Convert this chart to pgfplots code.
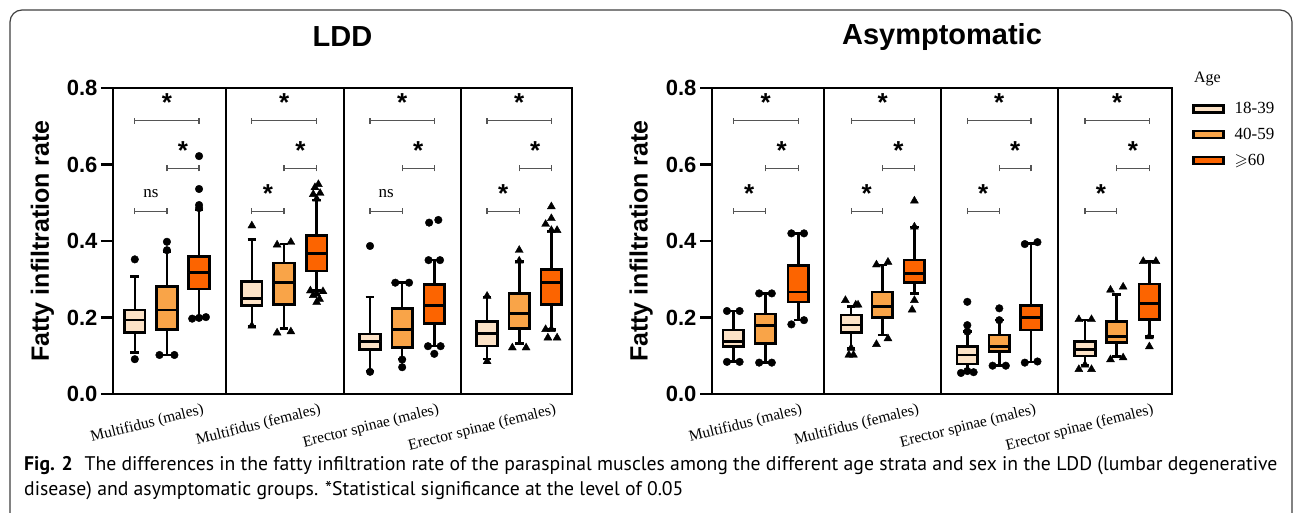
\documentclass[border=0pt]{standalone}
\usepackage{fontspec}
\usepackage{amssymb}
\usepackage{pgfplots}
\pgfplotsset{compat=1.18}
\usepgfplotslibrary{statistics}
\setmainfont{Liberation Serif}
\newfontfamily\arial{Liberation Sans}
\newfontfamily\capfont{PT Sans}
\definecolor{cA}{RGB}{252,226,198}
\definecolor{cB}{RGB}{249,164,72}
\definecolor{cC}{RGB}{252,100,0}
\definecolor{brk}{RGB}{85,85,85}

% box: position, lower whisker, lower quartile, median, upper quartile, upper whisker, fill
\newcommand{\bx}[7]{\addplot[draw=black, line width=2.6pt, fill=#7,
  boxplot prepared={draw position=#1, lower whisker=#2, lower quartile=#3,
  median=#4, upper quartile=#5, upper whisker=#6, box extend=0.18, whisker extend=0.075}]
  coordinates {};}
% significance bar: x1, x2, bar y, label x, label y, label
\newcommand{\sig}[6]{%
  \draw[brk, line width=1.3pt] (axis cs:#1,#3) -- (axis cs:#2,#3);
  \draw[brk, line width=1.3pt] ([yshift=-3pt]axis cs:#1,#3) -- ([yshift=3pt]axis cs:#1,#3);
  \draw[brk, line width=1.3pt] ([yshift=-3pt]axis cs:#2,#3) -- ([yshift=3pt]axis cs:#2,#3);
  \node[inner sep=0pt, anchor=center] at (axis cs:#4,#5) {#6};}
\newcommand{\st}{\raisebox{-5.5pt}{\arial\bfseries\fontsize{26}{26}\selectfont *}}
\newcommand{\ns}{{\fontsize{17}{17}\selectfont ns}}

\pgfplotsset{
  panel/.style={
    scale only axis, height=306pt,
    xmin=0, xmax=4, ymin=0, ymax=0.8, clip=false,
    boxplot/draw direction=y,
    axis line style={line width=2.8pt},
    ytick={0,0.2,0.4,0.6,0.8}, ytick pos=left, tick align=outside,
    major tick length=12pt,
    ytick style={line width=2.2pt, black},
    xtick style={draw=none},
    xticklabels={Multifidus (males), Multifidus (females), Erector spinae (males), Erector spinae (females)},
    xticklabel style={font=\fontsize{15.5}{16}\selectfont, rotate=14, anchor=north east, xshift=38pt, yshift=-2pt},
    every axis title/.style={at={(axis description cs:0.5,1.167)}, anchor=center,
      font=\arial\bfseries\fontsize{29}{29}\selectfont},
    every axis y label/.style={at={(axis description cs:-0.154,0.5)}, rotate=90, anchor=center,
      font=\arial\bfseries\fontsize{25}{25}\selectfont},
    ylabel={Fatty infiltration rate},
    yticklabel style={font=\arial\bfseries\fontsize{22}{22}\selectfont,
      /pgf/number format/.cd, fixed, fixed zerofill, precision=1, assume math mode=true},
  },
  dots/.style={only marks, mark=*, mark size=3.8pt, black},
  tris/.style={only marks, mark=triangle*, mark size=4.6pt, black},
}

\begin{document}
\begin{tikzpicture}
\fill[white] (0pt,0pt) rectangle (1298pt,-513pt);
\useasboundingbox (0pt,0pt) rectangle (1298pt,-513pt);
\draw[black!75, line width=1.2pt, rounded corners=12pt] (10pt,-514pt) -- (10pt,-10pt) -- (1292pt,-10pt) -- (1292pt,-514pt);

% ---------------- LDD ----------------
\begin{axis}[panel, at={(113pt,-394pt)}, anchor=south west, width=459pt,
  title={LDD}, xtick={0.47,1.49,2.52,3.54}]
\draw[line width=2.8pt] (axis cs:0.985,0) -- (axis cs:0.985,0.8);
\draw[line width=2.8pt] (axis cs:2.013,0) -- (axis cs:2.013,0.8);
\draw[line width=2.8pt] (axis cs:3.033,0) -- (axis cs:3.033,0.8);
% Multifidus (males)
\bx{0.19}{0.108}{0.161}{0.193}{0.220}{0.307}{cA}
\bx{0.47}{0.102}{0.169}{0.220}{0.281}{0.372}{cB}
\bx{0.75}{0.200}{0.2745}{0.317}{0.359}{0.481}{cC}
\addplot[dots] coordinates {(0.19,0.352) (0.19,0.091) (0.47,0.398) (0.47,0.376)
  (0.405,0.102) (0.535,0.102) (0.75,0.486) (0.75,0.494) (0.75,0.536) (0.75,0.622)
  (0.69,0.197) (0.75,0.199) (0.81,0.201)};
% Multifidus (females)
\bx{1.21}{0.176}{0.232}{0.250}{0.2946}{0.404}{cA}
\bx{1.49}{0.172}{0.2345}{0.292}{0.342}{0.392}{cB}
\bx{1.775}{0.270}{0.322}{0.367}{0.414}{0.507}{cC}
\addplot[tris] coordinates {(1.21,0.440) (1.21,0.178) (1.43,0.390) (1.55,0.397)
  (1.43,0.160) (1.55,0.163) (1.775,0.510) (1.745,0.522) (1.805,0.525) (1.76,0.540)
  (1.79,0.548) (1.72,0.270) (1.775,0.262) (1.83,0.268) (1.745,0.258) (1.80,0.248)
  (1.775,0.240)};
% Erector spinae (males)
\bx{2.24}{0.060}{0.117}{0.137}{0.157}{0.254}{cA}
\bx{2.52}{0.091}{0.122}{0.168}{0.223}{0.291}{cB}
\bx{2.80}{0.125}{0.185}{0.231}{0.286}{0.350}{cC}
\addplot[dots] coordinates {(2.24,0.387) (2.24,0.058) (2.46,0.291) (2.58,0.291)
  (2.52,0.090) (2.52,0.070) (2.75,0.350) (2.85,0.350) (2.755,0.448) (2.835,0.455)
  (2.745,0.125) (2.855,0.125) (2.80,0.105)};
% Erector spinae (females)
\bx{3.26}{0.091}{0.126}{0.158}{0.190}{0.254}{cA}
\bx{3.54}{0.132}{0.172}{0.211}{0.263}{0.346}{cB}
\bx{3.82}{0.169}{0.2345}{0.292}{0.326}{0.426}{cC}
\addplot[tris] coordinates {(3.26,0.256) (3.26,0.085) (3.54,0.376) (3.54,0.348)
  (3.48,0.121) (3.60,0.121) (3.82,0.428) (3.87,0.428) (3.77,0.444) (3.82,0.459)
  (3.82,0.490) (3.77,0.169) (3.82,0.169) (3.79,0.147) (3.87,0.147)};
% significance
\sig{0.19}{0.75}{0.715}{0.47}{0.762}{\st}
\sig{0.47}{0.75}{0.590}{0.61}{0.637}{\st}
\sig{0.19}{0.47}{0.478}{0.33}{0.525}{\ns}
\sig{1.21}{1.775}{0.715}{1.4925}{0.762}{\st}
\sig{1.49}{1.775}{0.590}{1.6325}{0.637}{\st}
\sig{1.21}{1.49}{0.478}{1.35}{0.525}{\st}
\sig{2.24}{2.80}{0.715}{2.52}{0.762}{\st}
\sig{2.52}{2.80}{0.590}{2.66}{0.637}{\st}
\sig{2.24}{2.52}{0.478}{2.38}{0.525}{\ns}
\sig{3.26}{3.82}{0.715}{3.54}{0.762}{\st}
\sig{3.54}{3.82}{0.590}{3.68}{0.637}{\st}
\sig{3.26}{3.54}{0.478}{3.40}{0.525}{\st}
\end{axis}

% ---------------- Asymptomatic ----------------
\begin{axis}[panel, at={(712pt,-394pt)}, anchor=south west, width=460pt,
  title={Asymptomatic}, xtick={0.463,1.48,2.498,3.519},
  legend style={draw=none, fill=none, inner sep=0pt, row sep=11pt,
    at={(axis description cs:1.0435,0.957)}, anchor=north west,
    font=\fontsize{17}{17}\selectfont, nodes={inner sep=1pt},
    /tikz/every even column/.append style={column sep=0pt}},
  legend cell align=left]
\addlegendimage{legend image code/.code={\draw[line width=2.6pt, fill=cA] (0pt,-3.5pt) rectangle (30pt,3.5pt); \path (40pt,0pt);}}
\addlegendentry{18-39}
\addlegendimage{legend image code/.code={\draw[line width=2.6pt, fill=cB] (0pt,-3.5pt) rectangle (30pt,3.5pt); \path (40pt,0pt);}}
\addlegendentry{40-59}
\addlegendimage{legend image code/.code={\draw[line width=2.6pt, fill=cC] (0pt,-3.5pt) rectangle (30pt,3.5pt); \path (40pt,0pt);}}
\addlegendentry{$\geqslant$60}
\draw[line width=2.8pt] (axis cs:0.974,0) -- (axis cs:0.974,0.8);
\draw[line width=2.8pt] (axis cs:1.991,0) -- (axis cs:1.991,0.8);
\draw[line width=2.8pt] (axis cs:3.009,0) -- (axis cs:3.009,0.8);
% Multifidus (males)
\bx{0.185}{0.085}{0.124}{0.137}{0.167}{0.217}{cA}
\bx{0.463}{0.082}{0.1325}{0.179}{0.209}{0.263}{cB}
\bx{0.75}{0.193}{0.2405}{0.267}{0.336}{0.420}{cC}
\addplot[dots] coordinates {(0.13,0.217) (0.24,0.217) (0.13,0.084) (0.24,0.084)
  (0.41,0.263) (0.52,0.263) (0.41,0.082) (0.52,0.082)
  (0.69,0.420) (0.80,0.420) (0.69,0.182) (0.80,0.193)};
% Multifidus (females)
\bx{1.21}{0.119}{0.161}{0.180}{0.2065}{0.228}{cA}
\bx{1.48}{0.154}{0.1995}{0.228}{0.2667}{0.337}{cB}
\bx{1.76}{0.263}{0.292}{0.3155}{0.350}{0.437}{cC}
\addplot[tris] coordinates {(1.16,0.245) (1.25,0.233) (1.27,0.233) (1.19,0.102)
  (1.23,0.102) (1.21,0.120) (1.43,0.338) (1.53,0.345) (1.43,0.130) (1.53,0.145)
  (1.76,0.437) (1.76,0.505) (1.76,0.245) (1.74,0.220)};
% Erector spinae (males)
\bx{2.22}{0.058}{0.078}{0.102}{0.1237}{0.163}{cA}
\bx{2.498}{0.074}{0.1106}{0.124}{0.154}{0.193}{cB}
\bx{2.774}{0.084}{0.167}{0.1996}{0.232}{0.394}{cC}
\addplot[dots] coordinates {(2.22,0.163) (2.22,0.180) (2.22,0.241) (2.165,0.055)
  (2.22,0.060) (2.275,0.057) (2.498,0.193) (2.498,0.224) (2.44,0.074) (2.555,0.074)
  (2.72,0.392) (2.83,0.397) (2.72,0.082) (2.83,0.085)};
% Erector spinae (females)
\bx{3.243}{0.076}{0.099}{0.117}{0.138}{0.193}{cA}
\bx{3.519}{0.0976}{0.135}{0.150}{0.189}{0.260}{cB}
\bx{3.803}{0.150}{0.195}{0.237}{0.2876}{0.346}{cC}
\addplot[tris] coordinates {(3.19,0.195) (3.30,0.195) (3.19,0.0645) (3.30,0.0645)
  (3.243,0.076) (3.465,0.272) (3.575,0.280) (3.465,0.090) (3.575,0.095)
  (3.75,0.347) (3.86,0.347) (3.803,0.150) (3.803,0.124)};
% significance
\sig{0.185}{0.75}{0.715}{0.4675}{0.762}{\st}
\sig{0.463}{0.75}{0.590}{0.6065}{0.637}{\st}
\sig{0.185}{0.463}{0.478}{0.324}{0.525}{\st}
\sig{1.21}{1.76}{0.715}{1.485}{0.762}{\st}
\sig{1.48}{1.76}{0.590}{1.62}{0.637}{\st}
\sig{1.21}{1.48}{0.478}{1.345}{0.525}{\st}
\sig{2.22}{2.774}{0.715}{2.497}{0.762}{\st}
\sig{2.498}{2.774}{0.590}{2.636}{0.637}{\st}
\sig{2.22}{2.498}{0.478}{2.359}{0.525}{\st}
\sig{3.243}{3.803}{0.715}{3.523}{0.762}{\st}
\sig{3.519}{3.803}{0.590}{3.661}{0.637}{\st}
\sig{3.243}{3.519}{0.478}{3.381}{0.525}{\st}
\end{axis}

\node[font=\fontsize{16}{16}\selectfont] at (1207.5pt,-79pt) {Age};

\node[anchor=west, inner sep=0pt] at (24pt,-478pt) {\resizebox{1253pt}{!}{\capfont\fontsize{19}{24}\selectfont
  \begin{tabular}{@{}l@{}}
  \textbf{Fig. 2}\hspace{0.6em}The differences in the fatty infiltration rate of the paraspinal muscles among the different age strata and sex in the LDD (lumbar degenerative\\
  disease) and asymptomatic groups. *Statistical significance at the level of 0.05
  \end{tabular}}};
\end{tikzpicture}
\end{document}
